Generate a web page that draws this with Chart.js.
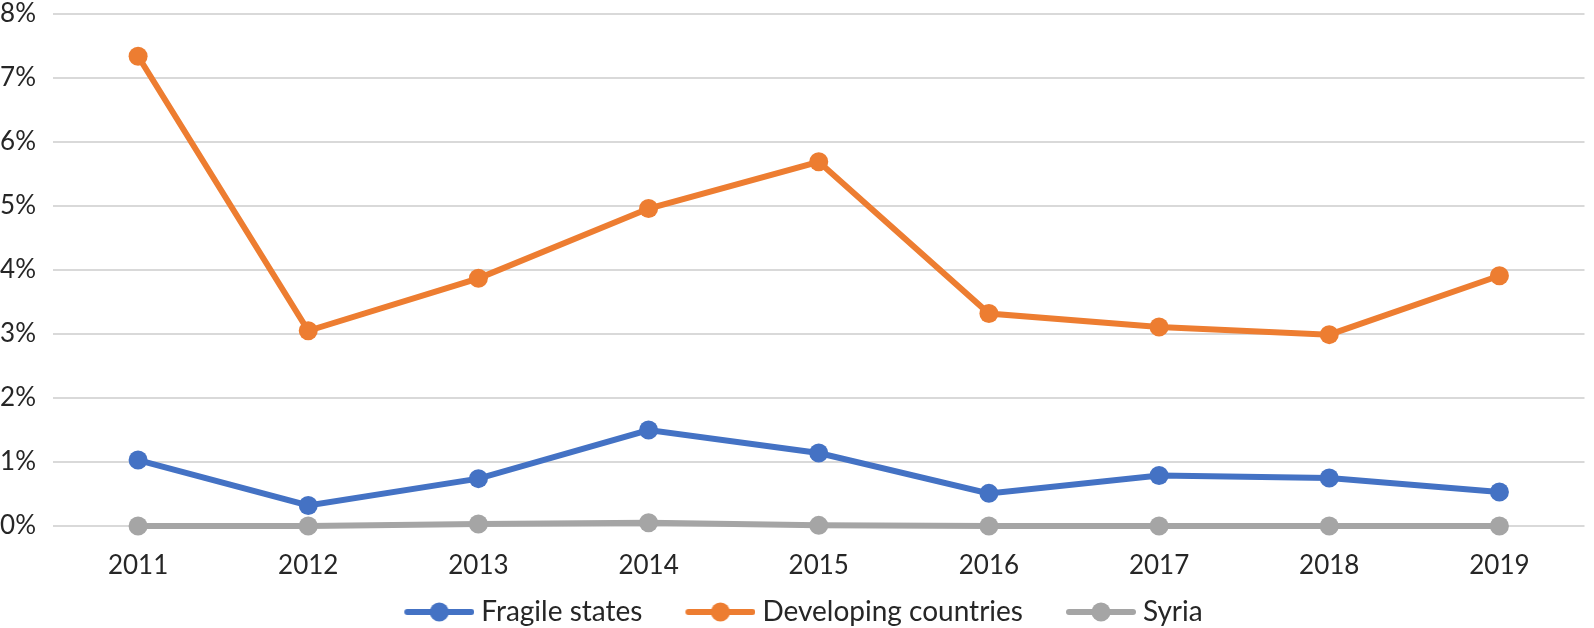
<!DOCTYPE html>
<html>
<head>
<meta charset="utf-8">
<script src="https://cdn.jsdelivr.net/npm/chart.js@4.4.1/dist/chart.umd.min.js"></script>
<style>
  html, body { margin: 0; padding: 0; background: #ffffff; }
  canvas { display: block; }
</style>
</head>
<body>
<canvas id="chart" width="1594" height="628"></canvas>
<script>
// ---- data ----
const years = ['2011', '2012', '2013', '2014', '2015', '2016', '2017', '2018', '2019'];
const fragileStates = [1.03, 0.32, 0.74, 1.50, 1.14, 0.51, 0.79, 0.75, 0.53];
const developingCountries = [7.34, 3.05, 3.87, 4.96, 5.69, 3.32, 3.11, 2.99, 3.91];
const syria = [0.00, 0.00, 0.03, 0.05, 0.01, 0.00, 0.00, 0.00, 0.00];
const seriesNames = ['Fragile states', 'Developing countries', 'Syria'];
const yTickMin = 0;
const yTickMax = 8;
const yTickStep = 1;

// ---- styles ----
const colors = ['#4472C4', '#ED7D31', '#A5A5A5'];
const textColor = '#262626';
const fontFamily = 'Lato, "Open Sans", sans-serif';

function legendMarker(color) {
  const c = document.createElement('canvas');
  c.width = 110; c.height = 24;
  const g = c.getContext('2d');
  const x0 = c.width - 70;
  g.strokeStyle = color; g.lineWidth = 6; g.lineCap = 'round';
  g.beginPath(); g.moveTo(x0 + 3, 12); g.lineTo(c.width - 3, 12); g.stroke();
  g.fillStyle = color;
  g.beginPath(); g.arc(x0 + 35, 12, 9.5, 0, Math.PI * 2); g.fill();
  return c;
}

const legendShift = {
  id: 'legendShift',
  afterLayout(chart) {
    if (chart.legend) { chart.legend.left -= 10; chart.legend.right -= 10; }
  }
};

function draw() {
  const markers = colors.map(legendMarker);
  const seriesData = [fragileStates, developingCountries, syria];
  const datasets = seriesNames.map((name, i) => ({
    label: name,
    data: seriesData[i],
    borderColor: colors[i],
    backgroundColor: colors[i],
    pointBackgroundColor: colors[i],
    pointBorderColor: colors[i],
    borderWidth: 6,
    pointRadius: 9.5,
    pointBorderWidth: 0,
    pointHoverRadius: 9.5,
    tension: 0,
    clip: false,
    order: 3 - i
  }));

  new Chart(document.getElementById('chart'), {
    type: 'line',
    data: { labels: years, datasets },
    plugins: [legendShift],
    options: {
      responsive: false,
      animation: false,
      devicePixelRatio: 1,
      layout: { padding: { top: 14, left: 0, right: 0, bottom: -8 } },
      plugins: {
        tooltip: { enabled: false },
        legend: {
          position: 'bottom',
          labels: {
            usePointStyle: true,
            pointStyleWidth: 96,
            padding: 10,
            color: textColor,
            font: { family: fontFamily, size: 28 },
            generateLabels: (chart) => chart.data.datasets.map((ds, i) => ({
              text: ds.label,
              pointStyle: markers[i],
              fillStyle: colors[i],
              strokeStyle: colors[i],
              lineWidth: 0,
              fontColor: textColor,
              hidden: false,
              datasetIndex: i
            }))
          }
        }
      },
      scales: {
        x: {
          offset: true,
          grid: { display: false, drawTicks: false },
          border: { display: false },
          ticks: {
            padding: 24,
            color: textColor,
            font: { family: fontFamily, size: 26, lineHeight: 1.2 }
          },
          afterFit: (s) => { s.height = 62; }
        },
        y: {
          min: yTickMin,
          max: yTickMax,
          grid: { color: '#d9d9d9', lineWidth: 2, drawTicks: false },
          border: { display: false },
          ticks: {
            stepSize: yTickStep,
            padding: 17,
            color: textColor,
            font: { family: fontFamily, size: 26, lineHeight: 1 },
            callback: (v) => v + '%'
          },
          afterFit: (s) => { s.width = 53; s.paddingTop = 0; s.paddingBottom = 0; }
        }
      }
    }
  });
}

if (document.fonts && document.fonts.load) {
  Promise.all([document.fonts.load('26px Lato'), document.fonts.load('28px Lato')])
    .then(draw, draw);
} else {
  draw();
}
</script>
</body>
</html>
